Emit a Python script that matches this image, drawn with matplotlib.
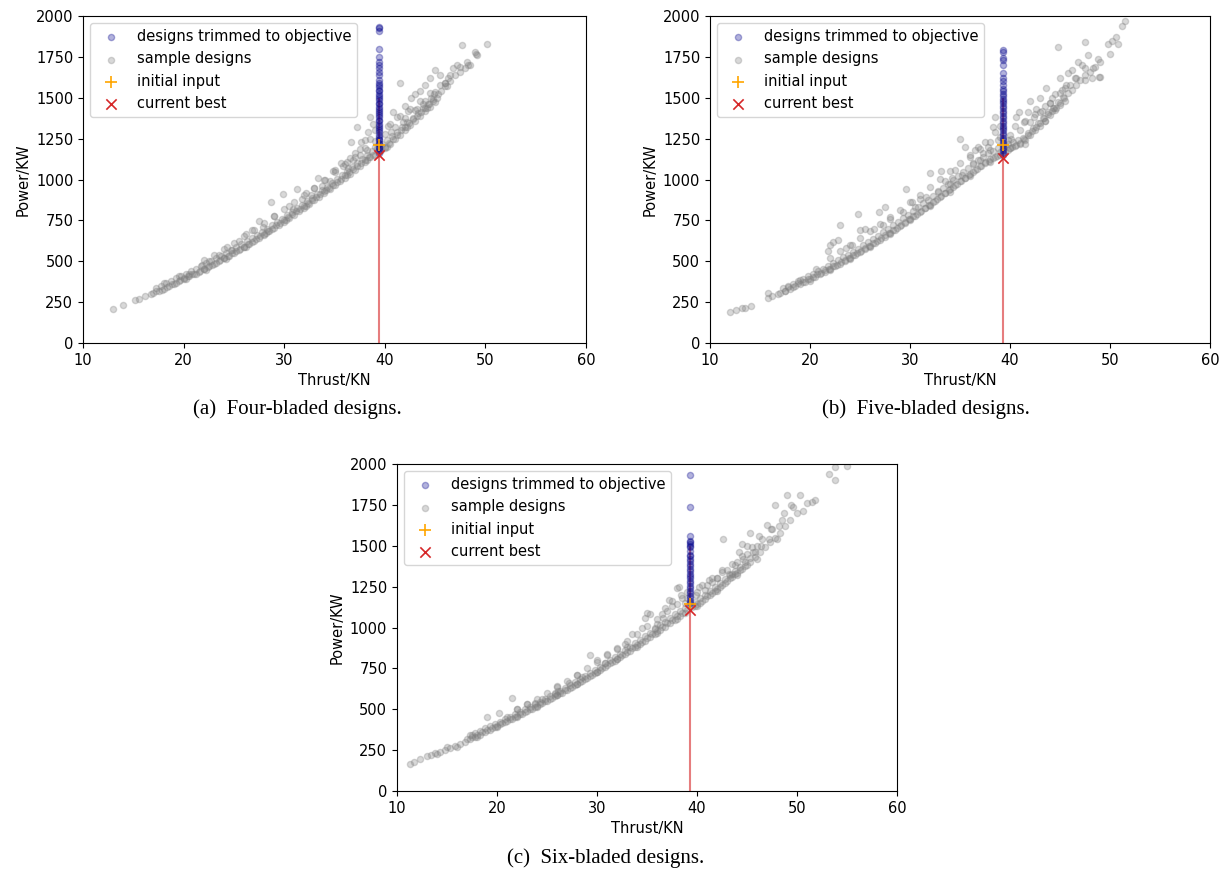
import matplotlib
matplotlib.use("Agg")
from matplotlib import pyplot as plt

# ---- data (thrust [KN], power [KW]) ----
# four-bladed: scattered sample designs
thrust_a = [13.0, 14.0, 15.2, 15.6, 16.2, 16.8, 17.3, 17.8, 18.3, 18.8, 19.2, 19.6, 20.0, 20.4, 20.8,
            21.2, 21.6, 22.0, 22.4, 22.8, 23.2, 23.6, 24.0, 24.4, 24.8, 25.2, 25.6, 26.0, 26.4, 26.8,
            27.2, 27.6, 28.0, 28.4, 28.8, 29.2, 29.6, 30.0, 30.4, 30.8, 31.2, 31.6, 32.0, 32.4, 32.8,
            33.2, 33.6, 34.0, 34.4, 34.8, 35.2, 35.6, 36.0, 36.4, 36.8, 37.2, 37.6, 38.0, 38.4, 38.8,
            39.6, 40.0, 40.4, 40.8, 41.2, 41.6, 42.0, 42.4, 42.8, 43.2, 43.6, 44.0, 44.4, 44.8, 45.2,
            45.6, 46.0, 46.5, 47.0, 47.5, 48.0, 49.0, 50.2,
            28.7, 29.9, 31.3, 32.2, 33.4, 34.8, 35.6, 36.2, 37.0, 37.6, 38.0, 38.3, 38.5, 37.2, 38.8,
            36.6, 40.3, 40.8, 41.5, 41.2, 42.0, 42.6, 43.0, 43.5, 44.0, 44.5, 45.0, 45.5, 46.0, 46.8,
            47.7, 49.1, 48.2, 43.8, 42.3, 44.9, 27.5, 26.2, 25.5, 24.3, 29.0, 30.5, 31.8, 33.0, 34.1,
            35.0, 36.3, 37.5, 21.8, 23.5, 19.5, 18.0, 22.5, 26.8, 32.7, 34.5, 35.8, 36.8, 38.2, 39.0,
            40.6, 41.8, 43.2, 44.6, 46.3, 47.2, 48.5, 20.5, 24.8, 27.9, 30.9, 33.8,
            20.2, 22.2, 24.2, 26.2, 28.2, 30.2, 32.2, 34.2, 36.2, 38.2, 40.2, 42.2, 44.2, 46.2, 48.3, 49.2]
power_a = [210, 235, 262, 272, 290, 300, 315, 325, 345, 360, 370, 385, 395, 410, 420,
           425, 440, 450, 465, 478, 490, 505, 520, 530, 548, 560, 575, 590, 605, 620,
           635, 655, 668, 685, 700, 720, 735, 755, 770, 790, 805, 822, 840, 858, 875,
           895, 912, 930, 950, 968, 985, 1005, 1025, 1045, 1062, 1080, 1100, 1118, 1135, 1150,
           1180, 1200, 1225, 1250, 1275, 1300, 1320, 1345, 1370, 1390, 1410, 1440, 1460, 1480, 1500,
           1540, 1570, 1600, 1640, 1660, 1680, 1780, 1830,
           865, 910, 940, 920, 1010, 1050, 1100, 1110, 1160, 1230, 1240, 1290, 1380, 1320, 1340,
           1230, 1330, 1410, 1590, 1380, 1450, 1500, 1520, 1540, 1580, 1620, 1670, 1640, 1590, 1680,
           1820, 1770, 1720, 1460, 1420, 1520, 745, 665, 625, 590, 775, 840, 880, 950, 1000,
           1060, 1070, 1150, 480, 540, 410, 365, 500, 690, 905, 990, 1080, 1120, 1180, 1200,
           1290, 1350, 1430, 1500, 1620, 1700, 1700, 425, 570, 710, 820, 960,
           390, 448, 515, 590, 670, 755, 840, 935, 1030, 1120, 1200, 1320, 1440, 1570, 1700, 1760]
trimmed_a = [1165, 1180, 1190, 1200, 1215, 1225, 1240, 1250, 1262, 1275, 1290, 1300, 1315, 1330, 1340,
             1355, 1365, 1380, 1395, 1405, 1420, 1430, 1445, 1460, 1470, 1485, 1500, 1510, 1525, 1540,
             1550, 1565, 1575, 1590, 1610, 1640, 1660, 1680, 1700, 1720, 1750, 1800, 1910, 1925, 1935]

# five-bladed
thrust_b = [12.0, 12.6, 13.2, 13.5, 14.1, 15.8, 15.8, 16.2, 16.8, 17.5, 17.8, 18.3, 18.8, 19.3, 19.8,
            20.3, 20.7, 21.1, 21.5, 21.9, 22.3, 22.7, 23.1, 23.5, 23.9, 24.3, 24.7, 25.1, 25.5, 25.9,
            26.3, 26.7, 27.1, 27.5, 27.9, 28.3, 28.7, 29.1, 29.5, 29.9, 30.3, 30.7, 31.1, 31.5, 31.9,
            32.3, 32.7, 33.1, 33.5, 33.9, 34.3, 34.7, 35.1, 35.5, 35.9, 36.3, 36.7, 37.1, 37.5, 37.9,
            38.3, 38.7, 39.8, 40.2, 40.6, 41.0, 41.4, 41.8, 42.2, 42.6, 43.0, 43.4, 43.8, 44.2, 44.6,
            45.0, 45.4, 45.8, 46.2, 46.6, 47.0, 47.5, 48.0, 48.5, 49.0,
            21.8, 22.0, 22.3, 23.0, 22.8, 24.8, 25.0, 25.5, 26.9, 27.5, 27.3, 28.0, 29.6, 30.2, 31.0,
            31.6, 32.0, 33.1, 33.5, 34.0, 34.5, 35.0, 35.5, 36.0, 36.8, 37.3, 38.3, 38.5, 38.8, 37.8,
            36.3, 40.1, 40.6, 40.9, 41.4, 42.0, 41.8, 42.6, 43.0, 43.6, 44.0, 44.4, 44.8, 45.0, 45.6,
            45.8, 46.2, 46.8, 47.5, 47.8, 48.3, 48.8, 48.9, 50.0, 50.2, 50.8, 51.2, 51.5, 50.6, 49.8,
            29.3, 26.4, 24.2, 23.6, 20.6, 19.0, 30.5, 32.8, 34.2, 35.2, 37.0, 38.0, 39.0, 39.8, 42.4,
            43.2, 44.2, 45.2, 46.6, 47.2, 48.2, 49.0,
            20.0, 22.0, 24.0, 26.0, 28.0, 30.0, 32.0, 34.0, 36.0, 38.0, 40.0, 41.5, 43.5, 45.5, 47.5]
power_b = [190, 200, 215, 215, 228, 275, 305, 285, 300, 320, 340, 345, 365, 375, 390,
           405, 420, 430, 445, 455, 470, 480, 495, 510, 522, 538, 552, 565, 580, 595,
           610, 625, 642, 658, 672, 690, 705, 722, 740, 758, 775, 792, 810, 828, 845,
           862, 880, 898, 915, 935, 952, 970, 990, 1008, 1025, 1045, 1063, 1080, 1098, 1115,
           1132, 1145, 1180, 1200, 1210, 1225, 1245, 1270, 1295, 1320, 1345, 1375, 1400, 1420, 1440,
           1470, 1500, 1530, 1545, 1580, 1610, 1640, 1660, 1690, 1720,
           560, 600, 620, 720, 630, 790, 690, 695, 800, 830, 720, 760, 940, 860, 880,
           890, 1040, 1050, 990, 970, 1060, 1250, 1200, 1140, 1200, 1160, 1320, 1380, 1240, 1200,
           1100, 1250, 1380, 1410, 1350, 1480, 1410, 1430, 1500, 1560, 1470, 1440, 1810, 1620, 1580,
           1650, 1670, 1720, 1840, 1760, 1680, 1740, 1625, 1770, 1850, 1830, 1940, 1970, 1870, 1830,
           800, 700, 600, 580, 450, 385, 830, 930, 1010, 1030, 1120, 1180, 1170, 1240, 1380,
           1420, 1500, 1550, 1620, 1700, 1620, 1630,
           380, 445, 515, 585, 665, 750, 835, 925, 1020, 1110, 1190, 1215, 1360, 1480, 1610]
trimmed_b = [1150, 1165, 1180, 1195, 1210, 1225, 1240, 1255, 1270, 1285, 1300, 1315, 1330, 1345, 1360,
             1375, 1390, 1405, 1420, 1435, 1450, 1465, 1480, 1495, 1510, 1525, 1540, 1555, 1580, 1600,
             1620, 1650, 1700, 1730, 1745, 1780, 1790]

# six-bladed
thrust_c = [11.3, 11.7, 12.3, 13.0, 13.4, 13.8, 14.3, 14.8, 15.3, 15.8, 16.3, 16.8, 17.3, 17.8, 18.3,
            18.8, 19.3, 19.8, 20.3, 20.8, 21.3, 21.8, 22.3, 22.8, 23.3, 23.8, 24.3, 24.8, 25.3, 25.8,
            26.3, 26.8, 27.3, 27.8, 28.3, 28.8, 29.3, 29.8, 30.3, 30.8, 31.3, 31.8, 32.3, 32.8, 33.3,
            33.8, 34.3, 34.8, 35.3, 35.8, 36.3, 36.8, 37.3, 37.8, 38.3, 38.8, 39.8, 40.3, 40.8, 41.3,
            41.8, 42.3, 42.8, 43.3, 43.8, 44.3, 44.8, 45.3, 45.8, 46.3, 46.8, 47.3, 47.8, 48.3, 48.8,
            49.3, 50.0, 51.0, 51.8,
            19.0, 20.2, 21.5, 22.0, 23.0, 24.5, 25.8, 26.1, 28.0, 29.3, 28.5, 30.0, 31.0, 32.0, 32.8,
            33.5, 34.5, 34.8, 35.3, 35.0, 36.0, 36.8, 37.5, 38.0, 38.4, 38.2, 37.2, 40.2, 40.8, 41.5,
            42.0, 42.6, 43.2, 43.8, 44.2, 44.5, 45.0, 45.3, 45.6, 46.2, 46.4, 47.0, 47.4, 47.8, 48.2,
            48.7, 49.0, 49.4, 49.6, 50.3, 50.6, 51.5, 53.2, 53.8, 53.8, 55.0, 44.6, 42.5, 41.2, 39.9,
            27.2, 26.0, 30.8, 33.0, 35.8, 36.6, 38.8, 43.5, 45.8, 47.2, 48.5, 23.8, 21.0, 17.5, 15.0,
            14.0, 16.0, 18.0, 20.0, 22.0, 24.0, 26.0, 28.0, 30.0, 32.0, 34.0, 36.0, 38.0, 40.0, 42.0,
            44.0, 46.0, 48.0]
power_c = [165, 180, 195, 215, 220, 230, 240, 250, 262, 275, 285, 300, 315, 330, 345,
           360, 375, 392, 408, 422, 438, 452, 468, 485, 500, 515, 532, 548, 565, 582,
           598, 615, 632, 650, 668, 685, 705, 722, 742, 760, 780, 798, 818, 838, 858,
           878, 898, 918, 940, 960, 982, 1005, 1025, 1048, 1070, 1090, 1130, 1150, 1175, 1200,
           1225, 1250, 1275, 1300, 1325, 1350, 1375, 1400, 1430, 1460, 1490, 1520, 1550, 1580, 1620,
           1660, 1700, 1760, 1780,
           450, 480, 570, 500, 530, 560, 600, 610, 710, 830, 700, 800, 840, 870, 900,
           960, 1000, 1060, 1080, 1090, 1020, 1120, 1160, 1240, 1200, 1250, 1170, 1250, 1230, 1280,
           1300, 1540, 1330, 1380, 1460, 1510, 1500, 1580, 1460, 1560, 1500, 1630, 1600, 1750, 1620,
           1700, 1810, 1750, 1740, 1810, 1710, 1770, 1940, 1980, 1900, 1990, 1420, 1350, 1290, 1200,
           660, 640, 780, 880, 1000, 1060, 1150, 1330, 1460, 1540, 1660, 540, 450, 340, 270,
           225, 272, 330, 390, 450, 515, 585, 655, 730, 805, 880, 965, 1050, 1130, 1225,
           1320, 1420, 1540]
trimmed_c = [1150, 1165, 1180, 1195, 1210, 1225, 1240, 1255, 1270, 1285, 1300, 1315, 1330, 1345, 1360,
             1375, 1390, 1405, 1420, 1435, 1445, 1470, 1490, 1500, 1510, 1520, 1530, 1560, 1740, 1930]

# dense part of the cloud: thrust read at regular spots, power of the band there
band_thrust_lo = [17.0, 17.5, 18.0, 18.5, 19.0, 19.5, 20.0, 20.5, 21.0, 21.5, 22.0, 22.5, 23.0, 23.5, 24.0,
                  24.5, 25.0, 25.5, 26.0, 26.5, 27.0, 27.5, 28.0, 28.5, 29.0, 29.5, 30.0, 30.5, 31.0, 31.5,
                  32.0, 32.5, 33.0, 33.5, 34.0, 34.5, 35.0, 35.5, 36.0, 36.5, 37.0, 37.5, 38.0, 38.5, 39.0,
                  39.5, 40.0, 40.5, 41.0, 41.5, 42.0, 42.5, 43.0, 43.5, 44.0, 44.5, 45.0]
band_thrust_mid = [17.25, 17.75, 18.25, 18.75, 19.25, 19.75, 20.25, 20.75, 21.25, 21.75, 22.25, 22.75,
                   23.25, 23.75, 24.25, 24.75, 25.25, 25.75, 26.25, 26.75, 27.25, 27.75, 28.25, 28.75,
                   29.25, 29.75, 30.25, 30.75, 31.25, 31.75, 32.25, 32.75, 33.25, 33.75, 34.25, 34.75,
                   35.25, 35.75, 36.25, 36.75, 37.25, 37.75, 38.25, 38.75, 39.25, 39.75, 40.25, 40.75,
                   41.25, 41.75, 42.25, 42.75, 43.25, 43.75, 44.25, 44.75, 45.25]
band_thrust_up = [22, 23, 24, 25, 26, 27, 28, 29, 30, 31, 32, 33, 34, 35, 36, 37, 38, 39, 40, 41, 42, 43,
                  44, 45, 46]
band_thrust_top = [36.5, 37.5, 38.5, 39.0, 40.5, 41.5, 42.5, 43.5, 44.5, 45.5, 46.5, 47.5]

band_lo_a = [305, 318, 332, 347, 362, 377, 392, 407, 422, 437, 452, 468, 484, 500, 517, 534, 551, 569, 587,
             605, 624, 643, 662, 682, 702, 722, 743, 764, 785, 806, 828, 850, 872, 895, 918, 941, 964, 988,
             1012, 1036, 1060, 1085, 1110, 1135, 1152, 1172, 1195, 1220, 1250, 1275, 1305, 1335, 1360, 1390,
             1420, 1445, 1475]
band_mid_a = [337, 350, 365, 380, 395, 410, 425, 440, 455, 470, 487, 503, 519, 535, 552, 570, 588, 606, 624,
              643, 662, 681, 700, 720, 740, 760, 781, 802, 823, 845, 867, 889, 911, 934, 957, 980, 1004, 1028,
              1052, 1076, 1100, 1125, 1150, 1175, 1190, 1215, 1240, 1265, 1292, 1320, 1350, 1378, 1405, 1435,
              1462, 1490, 1520]
band_up_a = [505, 540, 575, 612, 652, 690, 732, 775, 818, 860, 905, 950, 998, 1045, 1092, 1140, 1190, 1235,
             1280, 1320, 1375, 1425, 1480, 1535, 1590]
band_top_a = [1130, 1185, 1250, 1300, 1340, 1390, 1430, 1480, 1530, 1580, 1640, 1690]

band_lo_b = [305, 318, 332, 346, 360, 375, 390, 405, 420, 436, 452, 468, 485, 502, 519, 537, 555, 573, 592,
             611, 631, 651, 671, 692, 713, 735, 757, 779, 801, 824, 847, 870, 893, 916, 940, 964, 988, 1012,
             1036, 1060, 1084, 1105, 1125, 1140, 1152, 1170, 1190, 1205, 1215, 1240, 1270, 1300, 1330, 1360,
             1395, 1425, 1455]
band_mid_b = [335, 348, 362, 377, 392, 407, 423, 438, 455, 471, 488, 505, 523, 541, 559, 578, 597, 616, 636,
              656, 677, 698, 719, 741, 763, 785, 808, 831, 854, 877, 900, 924, 948, 972, 996, 1020, 1045, 1070,
              1095, 1118, 1140, 1160, 1175, 1190, 1200, 1215, 1230, 1240, 1255, 1285, 1315, 1345, 1378, 1410,
              1440, 1472, 1505]
band_up_b = [520, 560, 600, 640, 685, 728, 770, 815, 862, 908, 955, 1005, 1050, 1100, 1150, 1185, 1230, 1260,
             1270, 1300, 1350, 1410, 1470, 1530, 1580]
band_top_b = [1180, 1230, 1290, 1330, 1330, 1360, 1400, 1450, 1520, 1560, 1620, 1680]

band_lo_c = [315, 330, 345, 358, 372, 386, 400, 414, 428, 443, 458, 473, 488, 504, 520, 536, 552, 568, 585,
             602, 619, 637, 655, 673, 692, 711, 730, 750, 770, 790, 810, 830, 851, 872, 893, 914, 936, 958,
             980, 1002, 1025, 1048, 1070, 1090, 1105, 1125, 1145, 1165, 1190, 1212, 1235, 1260, 1285, 1310,
             1335, 1360, 1385]
band_mid_c = [340, 355, 369, 383, 397, 411, 425, 439, 454, 469, 484, 499, 515, 531, 547, 563, 579, 596, 613,
              630, 648, 666, 684, 703, 722, 741, 761, 781, 801, 821, 841, 862, 883, 904, 925, 947, 969, 991,
              1013, 1036, 1059, 1081, 1102, 1120, 1138, 1157, 1178, 1200, 1222, 1245, 1270, 1295, 1320, 1345,
              1372, 1398, 1425]
band_up_c = [500, 530, 565, 600, 635, 672, 712, 750, 792, 832, 875, 918, 962, 1008, 1052, 1098, 1142, 1180,
             1220, 1260, 1305, 1350, 1400, 1450, 1500]
band_top_c = [1080, 1130, 1180, 1220, 1260, 1300, 1340, 1390, 1440, 1490, 1540, 1600]

target_thrust = [39.4, 39.3, 39.3]
initial_power = [1210, 1210, 1145]
best_power = [1150, 1130, 1110]
captions = ['(a)  Four-bladed designs.', '(b)  Five-bladed designs.', '(c)  Six-bladed designs.']

FS = 10.5


def draw_panel(ax, thrust, power, band, trimmed, t_obj, p_init, p_best):
    all_t = thrust + band_thrust_lo + band_thrust_mid + band_thrust_up + band_thrust_top
    all_p = power + band[0] + band[1] + band[2] + band[3]
    ax.scatter([t_obj]*len(trimmed), trimmed, s=20, color='darkblue', alpha=0.3,
               label='designs trimmed to objective', zorder=3)
    ax.scatter(all_t, all_p, s=20, color='gray', alpha=0.3, label='sample designs', zorder=2)
    ax.vlines(t_obj, 0, 1500, color='tab:red', alpha=0.6, lw=1.5, zorder=2)
    ax.scatter([t_obj], [p_init], marker='+', s=70, color='orange', lw=1.2, label='initial input', zorder=4)
    ax.scatter([t_obj], [p_best], marker='x', s=55, color='tab:red', lw=1.2, label='current best', zorder=4)
    ax.set_xlim(10, 60)
    ax.set_ylim(0, 2000)
    ax.set_xticks([10, 20, 30, 40, 50, 60])
    ax.set_yticks(range(0, 2001, 250))
    ax.tick_params(labelsize=FS)
    ax.set_xlabel('Thrust/KN', fontsize=FS)
    ax.set_ylabel('Power/KW', fontsize=FS)
    ax.legend(loc='upper left', fontsize=FS)


fig = plt.figure(figsize=(12.25, 8.75), dpi=100)
ax_a = fig.add_axes([0.0678, 0.608, 0.4106, 0.3737])
ax_b = fig.add_axes([0.5796, 0.608, 0.4082, 0.3737])
ax_c = fig.add_axes([0.3241, 0.096, 0.4082, 0.3737])

draw_panel(ax_a, thrust_a, power_a, [band_lo_a, band_mid_a, band_up_a, band_top_a], trimmed_a,
           target_thrust[0], initial_power[0], best_power[0])
draw_panel(ax_b, thrust_b, power_b, [band_lo_b, band_mid_b, band_up_b, band_top_b], trimmed_b,
           target_thrust[1], initial_power[1], best_power[1])
draw_panel(ax_c, thrust_c, power_c, [band_lo_c, band_mid_c, band_up_c, band_top_c], trimmed_c,
           target_thrust[2], initial_power[2], best_power[2])

# sub-figure captions
fig.text(0.243, 0.532, captions[0], ha='center', va='center', family='Liberation Serif', fontsize=15)
fig.text(0.756, 0.532, captions[1], ha='center', va='center', family='Liberation Serif', fontsize=15)
fig.text(0.494, 0.019, captions[2], ha='center', va='center', family='Liberation Serif', fontsize=15)

fig.savefig('out.png', dpi=100)
